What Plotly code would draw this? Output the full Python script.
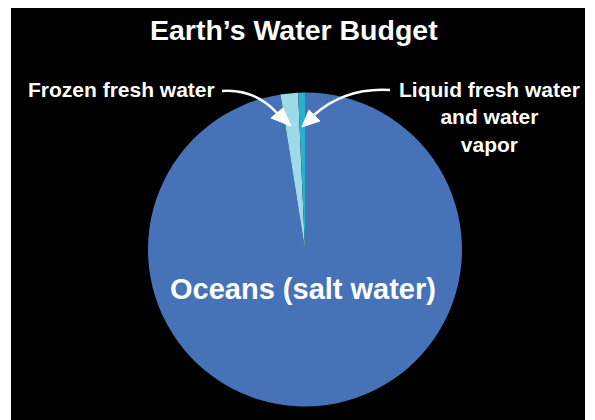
import plotly.graph_objects as go

# Page body has an 8px margin; figure drawn from (8, 8)
OX, OY = 8, 8
W, H = 587, 412

# Data
labels = ["Oceans (salt water)", "Frozen fresh water", "Liquid fresh water and water vapor"]
values = [97.5, 1.8, 0.7]
colors = ["#4673B7", "#9DD9E9", "#2CAFCF"]

title_text = "Earth’s Water Budget"
frozen_label = "Frozen fresh water"
liquid_label = "Liquid fresh water<br>and water<br>vapor"
ocean_label = "Oceans (salt water)"


def px(x):
    return (x - OX) / W


def py(y):
    return 1 - (y - OY) / H


def path(points_cmds):
    out = []
    for cmd, pts in points_cmds:
        s = cmd
        for (x, y) in pts:
            s += f" {px(x):.5f},{py(y):.5f}"
        out.append(s)
    return " ".join(out)


FONT = "Liberation Sans, Arial, sans-serif"

fig = go.Figure(go.Pie(
    labels=labels,
    values=values,
    sort=False,
    direction="clockwise",
    rotation=0,
    marker=dict(colors=colors, line=dict(width=0)),
    textinfo="none",
    hoverinfo="label+percent",
    domain=dict(x=[px(148), px(462)], y=[py(407), py(92)]),
    showlegend=False,
))

shapes = [
    dict(type="rect", xref="paper", yref="paper",
         x0=px(11), x1=px(585), y0=py(430), y1=py(8),
         fillcolor="black", line=dict(width=0), layer="below"),
    # left curved arrow
    dict(type="path", xref="paper", yref="paper",
         path=path([("M", [(222, 91)]), ("C", [(246, 89), (265, 100), (278, 114)])]),
         line=dict(color="white", width=2.5)),
    dict(type="path", xref="paper", yref="paper",
         path=path([("M", [(291, 126)]), ("L", [(271, 118)]), ("L", [(283, 108)])]) + " Z",
         fillcolor="white", line=dict(color="white", width=1)),
    # right curved arrow
    dict(type="path", xref="paper", yref="paper",
         path=path([("M", [(390, 90)]), ("C", [(356, 88), (331, 100), (314, 115)])]),
         line=dict(color="white", width=2.5)),
    dict(type="path", xref="paper", yref="paper",
         path=path([("M", [(302, 127)]), ("L", [(309, 110)]), ("L", [(320, 121)])]) + " Z",
         fillcolor="white", line=dict(color="white", width=1)),
]

annotations = [
    dict(text=title_text, x=px(294), y=py(30), xref="paper", yref="paper",
         showarrow=False, xanchor="center", yanchor="middle",
         font=dict(family=FONT, size=28.5, color="white", weight="bold")),
    dict(text=frozen_label, x=px(121), y=py(89), xref="paper", yref="paper",
         showarrow=False, xanchor="center", yanchor="middle",
         font=dict(family=FONT, size=21, color="white", weight="bold")),
    dict(text=liquid_label, x=px(489), y=py(117), xref="paper", yref="paper",
         showarrow=False, xanchor="center", yanchor="middle", align="center",
         font=dict(family=FONT, size=21, color="white", weight="bold")),
    dict(text=ocean_label, x=px(302.5), y=py(289), xref="paper", yref="paper",
         showarrow=False, xanchor="center", yanchor="middle",
         font=dict(family=FONT, size=29, color="white", weight="bold")),
]

fig.update_layout(
    width=W, height=H,
    margin=dict(l=0, r=0, t=0, b=0),
    paper_bgcolor="white",
    plot_bgcolor="white",
    shapes=shapes,
    annotations=annotations,
)

fig.write_html("out.html")
